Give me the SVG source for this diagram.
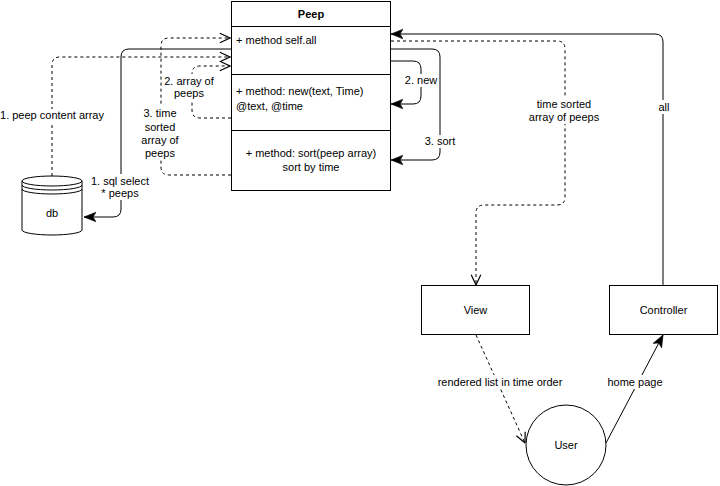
<svg xmlns="http://www.w3.org/2000/svg" width="720" height="486" viewBox="0 0 720 486">
<style>
text{font-family:"Liberation Sans",Arial,Helvetica,sans-serif;font-size:11px;fill:#000}
.c{text-anchor:middle}
.b{font-weight:bold}
.box{fill:#fff;stroke:#000;stroke-width:1}
.e{fill:none;stroke:#000;stroke-width:1}
.d{stroke-dasharray:3 3}
.bg{fill:#fff}
</style>
<defs>
<marker id="fa" markerUnits="userSpaceOnUse" markerWidth="12" markerHeight="12" viewBox="0 0 10 10" refX="10" refY="5" orient="auto">
<path d="M0,1 L10,5 L0,9 L2.5,5 Z" fill="#000" stroke="#000" stroke-width="0.5"/>
</marker>
<marker id="oa" markerUnits="userSpaceOnUse" markerWidth="12" markerHeight="12" viewBox="0 0 10 10" refX="9.5" refY="5" orient="auto">
<path d="M1,1 L9.5,5 L1,9" fill="none" stroke="#000" stroke-width="1"/>
</marker>
</defs>
<rect width="720" height="486" fill="#fff"/>

<g id="connectors">
<path class="e" d="M663,285 L663,42 Q663,34 655,34 L391,34" marker-end="url(#fa)"/>
<path class="e d" d="M391,41 L557,41 Q565,41 565,49 L565,197 Q565,205 557,205 L484,205 Q476,205 476,213 L476,285" marker-end="url(#oa)"/>
<path class="e" d="M391,61 L413,61 Q421,61 421,69 L421,96 Q421,104 413,104 L391,104" marker-end="url(#fa)"/>
<path class="e" d="M391,49 L432,49 Q440,49 440,57 L440,152 Q440,160 432,160 L391,160" marker-end="url(#fa)"/>
<path class="e" d="M231,49 L129,49 Q121,49 121,57 L121,209 Q121,217 113,217 L84,217" marker-end="url(#fa)"/>
<path class="e d" d="M52,176 L52,65 Q52,57 60,57 L230,57" marker-end="url(#oa)"/>
<path class="e d" d="M231,118 L200,118 Q192,118 192,110 L192,74 Q192,66 200,66 L230,66" marker-end="url(#oa)"/>
<path class="e d" d="M231,175 L169,175 Q161,175 161,167 L161,46 Q161,38 169,38 L230,38" marker-end="url(#oa)"/>
<path class="e d" d="M476,335 L525,443" marker-end="url(#oa)"/>
<path class="e" d="M606,443 L663,335" marker-end="url(#fa)"/>

<rect class="bg" x="1" y="109" width="102" height="13"/>
<text class="c" x="52" y="119">1. peep content array</text>
<rect class="bg" x="163" y="74" width="51" height="26"/>
<text class="c" x="189" y="85">2. array of</text>
<text class="c" x="189" y="97">peeps</text>
<rect class="bg" x="139" y="106" width="42" height="54"/>
<text class="c" x="160" y="117">3. time</text>
<text class="c" x="160" y="131">sorted</text>
<text class="c" x="160" y="144">array of</text>
<text class="c" x="160" y="157">peeps</text>
<rect class="bg" x="92" y="174" width="57" height="26"/>
<text class="c" x="120" y="185">1. sql select</text>
<text class="c" x="120" y="197">* peeps</text>
<rect class="bg" x="404" y="74" width="34" height="13"/>
<text class="c" x="421" y="84">2. new</text>
<rect class="bg" x="423" y="135" width="34" height="13"/>
<text class="c" x="440" y="145">3. sort</text>
<rect class="bg" x="529" y="97" width="72" height="27"/>
<text class="c" x="564" y="108">time sorted</text>
<text class="c" x="564" y="121">array of peeps</text>
<rect class="bg" x="658" y="100" width="12" height="14"/>
<text class="c" x="664" y="111">all</text>
<rect class="bg" x="437" y="375" width="126" height="14"/>
<text class="c" x="500" y="386">rendered list in time order</text>
<rect class="bg" x="607" y="375" width="56" height="14"/>
<text class="c" x="635" y="386">home page</text>
</g>

<g id="peep">
<rect class="box" x="231.5" y="1.5" width="159" height="189"/>
<line class="e" x1="231.5" y1="26.5" x2="390.5" y2="26.5"/>
<line class="e" x1="231.5" y1="74.5" x2="390.5" y2="74.5"/>
<line class="e" x1="231.5" y1="130.5" x2="390.5" y2="130.5"/>
<text class="c b" x="311" y="18">Peep</text>
<text x="236" y="44">+ method self.all</text>
<text x="236" y="95">+ method: new(text, Time)</text>
<text x="236" y="110">@text, @time</text>
<text class="c" x="311" y="157">+ method: sort(peep array)</text>
<text class="c" x="311" y="171">sort by time</text>
</g>

<g id="db">
<path class="box" d="M22,181 A30,5 0 0 1 82,181 L82,230 A30,5 0 0 1 22,230 Z"/>
<path class="e" d="M22,181 A30,5 0 0 0 82,181"/>
<path class="e" d="M22,185 A30,5 0 0 0 82,185"/>
<path class="e" d="M22,189 A30,5 0 0 0 82,189"/>
<text class="c" x="52" y="217">db</text>
</g>

<g id="view">
<rect class="box" x="421.5" y="285.5" width="108" height="49"/>
<text class="c" x="475.5" y="314">View</text>
</g>

<g id="controller">
<rect class="box" x="609.5" y="285.5" width="108" height="49"/>
<text class="c" x="663.5" y="314">Controller</text>
</g>

<g id="user">
<circle class="box" cx="566" cy="445" r="40"/>
<text class="c" x="566" y="449">User</text>
</g>
</svg>
